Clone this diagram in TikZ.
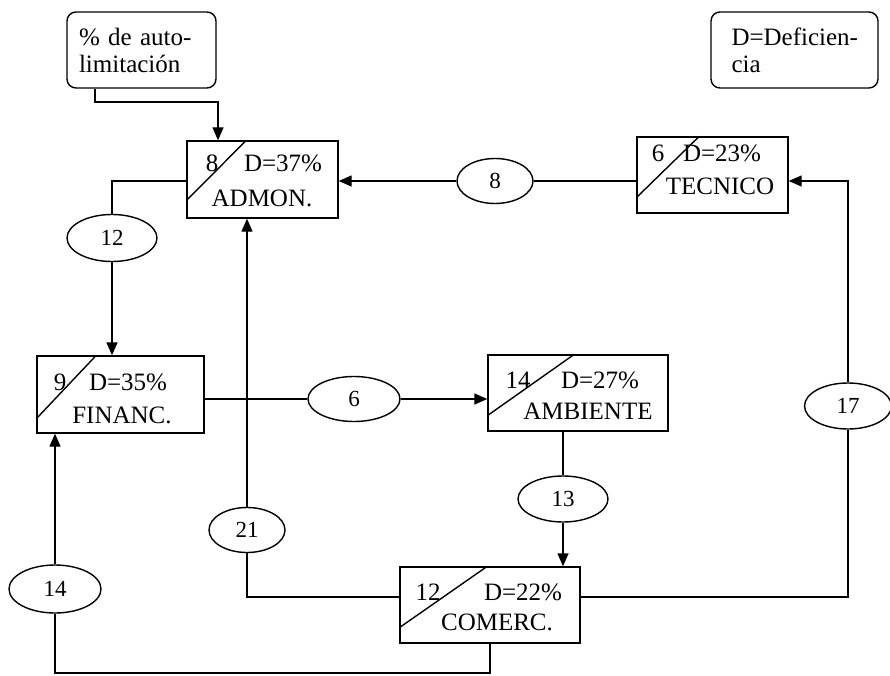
\documentclass[tikz,border=0pt]{standalone}
\usepackage{fontspec}
\setmainfont{Liberation Serif}
\usetikzlibrary{arrows.meta,shapes.geometric,calc}
\begin{document}
\begin{tikzpicture}[x=1pt,y=-1pt,line width=1.4pt,
  box/.style={draw,rectangle,inner sep=0pt},
  note/.style={draw,rectangle,rounded corners=9pt,inner sep=0pt,minimum width=149pt,minimum height=76pt,text width=125pt,align=left,font=\fontsize{25}{27}\selectfont},
  oval/.style={draw,ellipse,inner sep=0pt,font=\fontsize{23}{23}\selectfont},
  txt/.style={inner sep=0pt,anchor=base,font=\fontsize{25}{25}\selectfont},
  arr/.style={-{Triangle[length=13pt,width=11pt]}}]
\useasboundingbox (0,0) rectangle (890,676);

% notes
\node[note] (note1) at (141.5,50) {\mbox{\% de auto-}\\\mbox{limitación}};
\node[note,minimum width=167pt,text width=126pt] (note2) at (794.5,50) {\mbox{D=Deficien-}\\\mbox{cia}};

% boxes
\node[box,minimum width=151pt,minimum height=77pt] (admon) at (262.5,179.5) {};
\node[box,minimum width=151pt,minimum height=76pt] (tec) at (712.5,175) {};
\node[box,minimum width=167pt,minimum height=77pt] (fin) at (120.5,394.5) {};
\node[box,minimum width=180pt,minimum height=76pt] (amb) at (578,393) {};
\node[box,minimum width=180pt,minimum height=76pt] (com) at (490,605) {};

% diagonals
\draw ($(admon.south west)+(0,-18)$) -- ($(admon.north west)+(60,0)$);
\draw ($(tec.south west)+(0,-16)$) -- ($(tec.north west)+(63,0)$);
\draw ($(fin.south west)+(0,-15)$) -- ($(fin.north west)+(60,0)$);
\draw ($(amb.south west)+(0,-16)$) -- ($(amb.north west)+(87,0)$);
\draw ($(com.south west)+(0,-16)$) -- ($(com.north west)+(88,0)$);

% box texts
\node[txt] (a1) at (212,172) {8};
\node[txt] (a2) at (283,172) {D=37\%};
\node[txt] (a3) at (262,207) {ADMON.};
\node[txt] (t1) at (658,162) {6};
\node[txt] (t2) at (722,162) {D=23\%};
\node[txt] (t3) at (720,195) {TECNICO};
\node[txt] (f1) at (60,390) {9};
\node[txt] (f2) at (128,390) {D=35\%};
\node[txt] (f3) at (122,423) {FINANC.};
\node[txt] (m1) at (518,388) {14};
\node[txt] (m2) at (600,388) {D=27\%};
\node[txt] (m3) at (588,419) {AMBIENTE};
\node[txt] (c1) at (428,600) {12};
\node[txt] (c2) at (523,600) {D=22\%};
\node[txt] (c3) at (497,630) {COMERC.};

% ellipses
\node[oval,minimum width=90pt,minimum height=47pt] (e12) at (112,238) {12};
\node[oval,minimum width=76pt,minimum height=45pt] (e8) at (495,181) {8};
\node[oval,minimum width=92pt,minimum height=45pt] (e6) at (354,399) {6};
\node[oval,minimum width=76pt,minimum height=45pt] (e21) at (247,530) {21};
\node[oval,minimum width=92pt,minimum height=48pt] (e14) at (55,589) {14};
\node[oval,minimum width=90pt,minimum height=46pt] (e13) at (563,499) {13};
\node[oval,minimum width=87pt,minimum height=46pt] (e17) at (848,406) {17};

% helper coordinates
\coordinate (k1) at (95,102);
\coordinate (k2) at (218,102);
\coordinate (cy) at (0,597);
\coordinate (k4) at (0,673);

% connectors
\draw[arr] (note1.south -| k1) -- (k1) -- (k2) -- (admon.north -| k2);
\draw (tec.west |- e8) -- (e8.east);
\draw[arr] (e8.west) -- (admon.east |- e8);
\draw (admon.west |- e8) -| (e12.north);
\draw[arr] (e12.south) -- (fin.north -| e12);
\draw (fin.east |- e6) -- (e6.west);
\draw[arr] (e6.east) -- (amb.west |- e6);
\draw (amb.south -| e13) -- (e13.north);
\draw[arr] (e13.south) -- (com.north -| e13);
\draw[arr] (e21.north) -- (admon.south -| e21);
\draw (e21.south) |- (com.west |- cy);
\draw (com.east |- cy) -| (e17.south);
\draw[arr] (e17.north) |- (tec.east |- e8);
\draw (com.south) -- (com.south |- k4) -| (e14.south);
\draw[arr] (e14.north) -- (fin.south -| e14);
\end{tikzpicture}
\end{document}
